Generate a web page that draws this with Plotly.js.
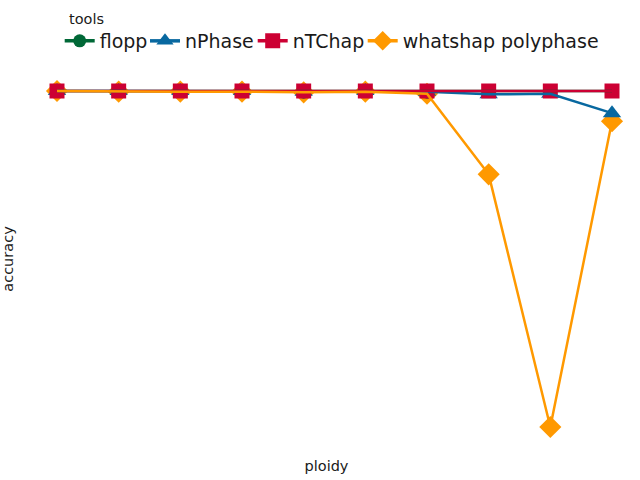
<!DOCTYPE html>
<html>
<head>
<meta charset="utf-8">
<script src="https://cdn.plot.ly/plotly-3.0.1.min.js"></script>
<style>html,body{margin:0;padding:0;background:#fff;}#chart{width:640px;height:480px;}</style>
</head>
<body>
<div id="chart"></div>
<script>
const ploidy = [2, 3, 4, 5, 6, 7, 8, 9, 10, 11];
const tools = ["flopp", "nPhase", "nTChap", "whatshap polyphase"];
const flopp = [1, 1, 1, 1, 0.999, 1, 0.999, 1, 1, 1];
const nPhase = [1, 1, 1, 1, 0.999, 1, 0.999, 0.995, 0.996, 0.967];
const nTChap = [1, 1, 1, 1, 1, 1, 1, 1, 1, 1];
const whatshap = [1, 0.999, 0.999, 0.999, 0.998, 0.999, 0.996, 0.876, 0.5, 0.955];

const series = [flopp, nPhase, nTChap, whatshap];
const colors = ["#006837", "#0868A0", "#CC0033", "#FF9900"];
const symbols = ["circle", "triangle-up", "square", "diamond"];
const sizes = [14, 16, 15, 17];
const legendX = [59.7, 145, 252.7, 362.7];

const L = 28, R = 15, T = 68, B = 30;
const plotW = 640 - L - R, plotH = 480 - T - B;

const traces = [];
// markers first, nTChap on top of the others
[3, 0, 1, 2].forEach(i => {
  traces.push({x: ploidy, y: series[i], mode: "markers", type: "scatter", showlegend: false,
    marker: {color: colors[i], symbol: symbols[i], size: sizes[i]}, name: tools[i]});
});
// lines drawn over the markers
series.forEach((s, i) => {
  traces.push({x: ploidy, y: s, mode: "lines", type: "scatter", showlegend: false,
    line: {color: colors[i], width: 2.5}, name: tools[i]});
});
// legend entries, each in its own legend box
series.forEach((s, i) => {
  traces.push({x: [null], y: [null], mode: "lines+markers", type: "scatter", name: tools[i],
    legend: i === 0 ? "legend" : "legend" + (i + 1),
    line: {color: colors[i], width: 3.5}, marker: {color: colors[i], symbol: symbols[i], size: i === 0 ? 13 : 15}});
});

const layout = {
  width: 640, height: 480,
  paper_bgcolor: "#fff", plot_bgcolor: "#fff",
  font: {family: "DejaVu Sans", color: "#1a1a1a"},
  margin: {l: L, r: R, t: T, b: B},
  xaxis: {range: [2 - 29/61.67, 11 + 13/61.67], showgrid: false, zeroline: false, showline: false,
    showticklabels: false, ticks: "", title: {text: "ploidy", font: {size: 14.5}, standoff: 10}},
  yaxis: {range: [0.5 - (T + plotH - 427)/672, 1 + (91 - T)/672], showgrid: false, zeroline: false, showline: false,
    showticklabels: false, ticks: "", title: {text: "accuracy", font: {size: 14.5}, standoff: 10}},
  annotations: [{text: "tools", xref: "paper", yref: "paper", x: (67 - L)/plotW, y: (T + plotH - 19)/plotH,
    xanchor: "left", yanchor: "middle", showarrow: false, font: {size: 14.5, color: "#1a1a1a"}}],
  showlegend: true
};
legendX.forEach((lx, i) => {
  layout[i === 0 ? "legend" : "legend" + (i + 1)] = {
    orientation: "h", xref: "container", yref: "container", x: lx/640, y: 1 - 41/480,
    xanchor: "left", yanchor: "middle", font: {size: 19}, bgcolor: "rgba(0,0,0,0)"
  };
});

Plotly.newPlot("chart", traces, layout, {displayModeBar: false, staticPlot: true});
</script>
</body>
</html>
